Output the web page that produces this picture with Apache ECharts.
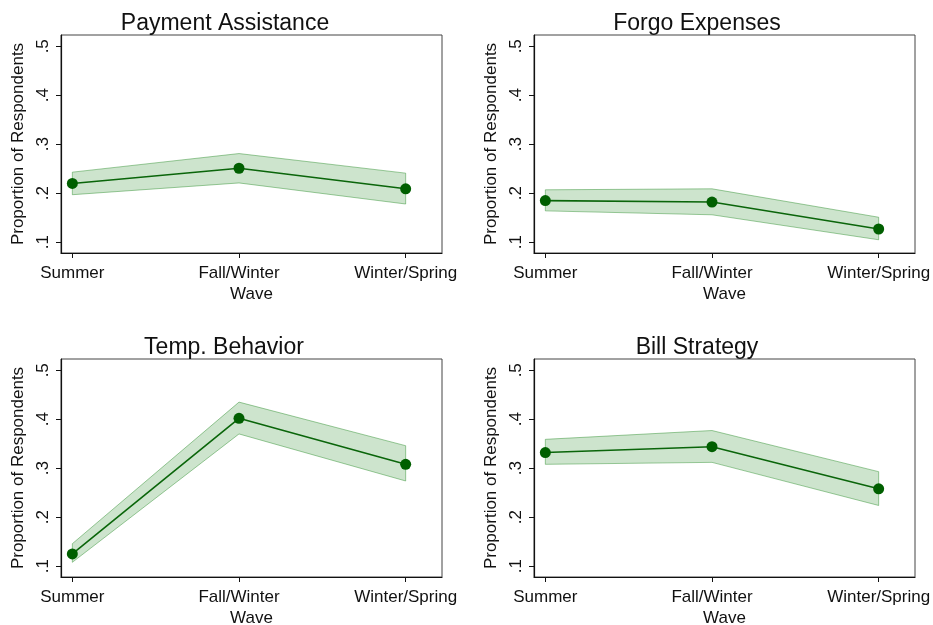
<!DOCTYPE html>
<html>
<head>
<meta charset="utf-8">
<script src="https://cdn.jsdelivr.net/npm/echarts@6/dist/echarts.min.js"></script>
<style>html,body{margin:0;padding:0;background:#fff}#c{width:933px;height:625px}</style>
</head>
<body>
<div id="c"></div>
<script>
const waves = ['Summer', 'Fall/Winter', 'Winter/Spring'];
const waveX = [1, 2, 3];
const yTicks = [0.1, 0.2, 0.3, 0.4, 0.5];
const panelTitles = ['Payment Assistance', 'Forgo Expenses', 'Temp. Behavior', 'Bill Strategy'];

const paymentEst = [0.220, 0.251, 0.209];
const paymentLo  = [0.197, 0.221, 0.178];
const paymentHi  = [0.243, 0.281, 0.241];

const forgoEst = [0.185, 0.182, 0.127];
const forgoLo  = [0.164, 0.156, 0.105];
const forgoHi  = [0.207, 0.209, 0.151];

const tempEst = [0.125, 0.402, 0.308];
const tempLo  = [0.108, 0.370, 0.274];
const tempHi  = [0.146, 0.435, 0.346];

const billEst = [0.332, 0.344, 0.258];
const billLo  = [0.308, 0.312, 0.224];
const billHi  = [0.359, 0.377, 0.293];

const panels = [
  {est: paymentEst, lo: paymentLo, hi: paymentHi},
  {est: forgoEst, lo: forgoLo, hi: forgoHi},
  {est: tempEst, lo: tempLo, hi: tempHi},
  {est: billEst, lo: billLo, hi: billHi}
];

const FONT = 'Liberation Sans, Arial, Helvetica, sans-serif';
const gridPos = [
  {left: 61, top: 35, width: 381, height: 218},
  {left: 534, top: 35, width: 381, height: 218},
  {left: 61, top: 359, width: 381, height: 218},
  {left: 534, top: 359, width: 381, height: 218}
];
const titlePos = [
  {left: 220, top: 7},
  {left: 692, top: 7},
  {left: 219, top: 331},
  {left: 692, top: 331}
];

const grids = [], xAxes = [], yAxes = [], series = [], titles = [];
panels.forEach((p, i) => {
  grids.push(Object.assign({show: true, borderColor: '#444', borderWidth: 1, backgroundColor: '#fff',
    containLabel: false, outerBoundsMode: 'none'}, gridPos[i]));
  titles.push({
    text: panelTitles[i], left: titlePos[i].left, top: titlePos[i].top, textAlign: 'center',
    textStyle: {fontFamily: FONT, fontSize: 23, fontWeight: 'normal', color: '#111'}
  });
  xAxes.push({
    type: 'value', gridIndex: i, min: 0.932, max: 3.218,
    splitLine: {show: false},
    axisLine: {show: true, lineStyle: {color: '#111', width: 1.2}},
    axisTick: {show: true, length: 5, customValues: waveX, lineStyle: {color: '#111'}},
    axisLabel: {
      customValues: waveX, margin: 12, fontFamily: FONT, fontSize: 17, color: '#111',
      formatter: v => waves[Math.round(v) - 1] || ''
    },
    name: 'Wave', nameLocation: 'middle', nameGap: 33,
    nameTextStyle: {fontFamily: FONT, fontSize: 17, color: '#111'}
  });
  yAxes.push({
    type: 'value', gridIndex: i, min: 0.078, max: 0.523,
    splitLine: {show: false},
    axisLine: {show: true, lineStyle: {color: '#111', width: 1.2}},
    axisTick: {show: true, length: 5, customValues: yTicks, lineStyle: {color: '#111'}},
    axisLabel: {
      customValues: yTicks, rotate: 90, margin: 9, fontFamily: FONT, fontSize: 17, color: '#111',
      formatter: v => String(Math.round(v * 10) / 10).replace(/^0/, '')
    },
    name: 'Proportion of Respondents', nameLocation: 'middle', nameRotate: 90, nameGap: 34,
    nameTextStyle: {fontFamily: FONT, fontSize: 17, color: '#111'}
  });
  const bandData = waveX.map((x, k) => [x, p.lo[k], p.hi[k]]);
  series.push({
    type: 'custom', xAxisIndex: i, yAxisIndex: i, data: bandData, silent: true, z: 1,
    renderItem: (params, api) => {
      if (params.dataIndex !== 0) return null;
      const upper = bandData.map(d => api.coord([d[0], d[2]]));
      const lower = bandData.map(d => api.coord([d[0], d[1]])).reverse();
      return {
        type: 'polygon',
        shape: {points: upper.concat(lower)},
        style: {fill: 'rgba(40,140,40,0.23)', stroke: 'rgba(40,140,40,0.45)', lineWidth: 1}
      };
    }
  });
  series.push({
    type: 'line', xAxisIndex: i, yAxisIndex: i, z: 3,
    data: waveX.map((x, k) => [x, p.est[k]]),
    symbol: 'circle', symbolSize: 11,
    itemStyle: {color: '#005f00'},
    lineStyle: {color: '#0a650a', width: 1.6}
  });
});

const chart = echarts.init(document.getElementById('c'), null, {renderer: 'canvas'});
chart.setOption({
  animation: false,
  backgroundColor: '#fff',
  title: titles, grid: grids, xAxis: xAxes, yAxis: yAxes, series: series
});
</script>
</body>
</html>
